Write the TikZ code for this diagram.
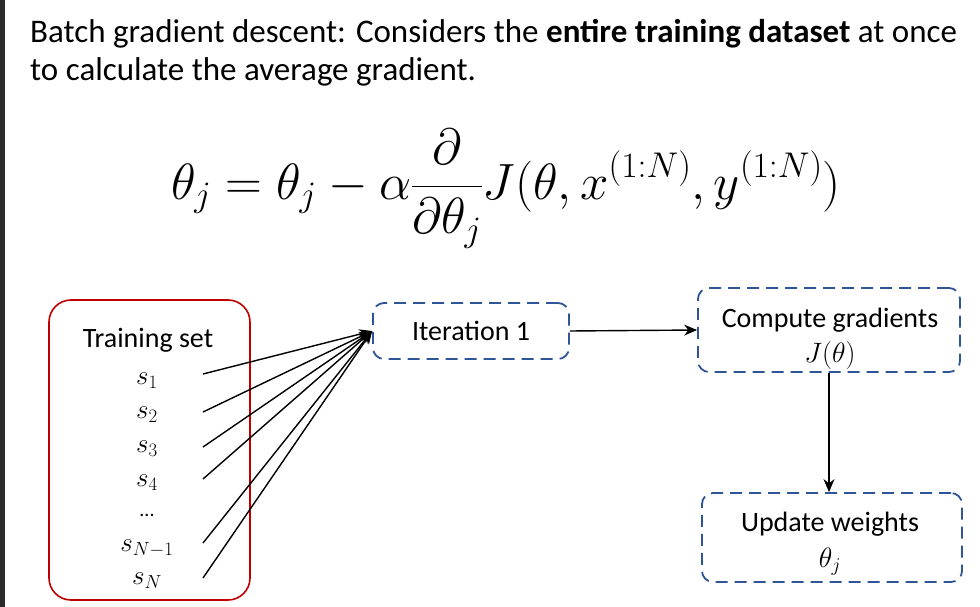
\RequirePackage{fix-cm}
\documentclass[tikz,border=0pt]{standalone}
\usepackage{amsmath}
\usepackage{fontspec}
\setmainfont{Carlito}
\usetikzlibrary{arrows.meta}
\definecolor{boxblue}{HTML}{2F5597}
\definecolor{boxred}{HTML}{C00000}
\definecolor{edgegray}{HTML}{2B2B2B}
\begin{document}
\begin{tikzpicture}[x=1pt,y=-1pt,
  dbox/.style={draw=boxblue, line width=1.8pt, dash pattern=on 12pt off 7pt, rounded corners=11pt, inner sep=0pt},
  conn/.style={-{Stealth[length=13pt,width=11pt]}, line width=1.4pt},
  fan/.style={-{Stealth[length=13pt,width=10pt]}, line width=1.4pt},
  lbl/.style={font=\fontsize{28}{32}\selectfont, inner sep=0pt, align=center},
  ttl/.style={font=\fontsize{33}{38}\selectfont, inner sep=0pt, anchor=base west},
  item/.style={font=\fontsize{27}{32}\selectfont, inner sep=0pt, anchor=base}
]
\useasboundingbox (0,0) rectangle (980,607);
\fill[white] (0,0) rectangle (980,607);
\fill[edgegray] (0,0) rectangle (5,607);

\node[ttl] (title1) at (30,43) {Batch gradient descent: Considers the \textbf{entire training dataset} at once};
\node[ttl] (title2) at (30,81) {to calculate the average gradient.};

\node[anchor=base, inner sep=0pt] (eq) at (506,199) {\fontsize{51}{60}\selectfont $\displaystyle\theta_j=\theta_j-\alpha\frac{\partial}{\partial\theta_j}J(\theta,x^{(1:N)},y^{(1:N)})$};

\node[draw=boxred, line width=1.6pt, rounded corners=22pt, minimum width=201pt, minimum height=300pt, inner sep=0pt] (train) at (149.5,450) {};
\node[lbl, anchor=base] (tslabel) at (148,347) {Training set};
\node[item] (s1) at (147,384) {$s_1$};
\node[item] (s2) at (147,418) {$s_2$};
\node[item] (s3) at (147,452) {$s_3$};
\node[item] (s4) at (147,486) {$s_4$};
\node[item] (sdots) at (147,516) {\fontsize{20}{24}\selectfont ...};
\node[item] (sN1) at (147,551) {$s_{N-1}$};
\node[item] (sN) at (147,584) {$s_N$};

\coordinate (c1) at (203,374);
\coordinate (c2) at (203,412);
\coordinate (c3) at (203,447);
\coordinate (c4) at (203,479);
\coordinate (cN1) at (203,543);
\coordinate (cN) at (203,578);

\node[dbox, minimum width=196pt, minimum height=56pt] (iter) at (471,331) {};
\node[lbl] (iterlabel) at (iter.center) {Iteration 1};

\node[dbox, minimum width=262pt, minimum height=84pt] (comp) at (829,330) {};
\node[lbl, anchor=base] (complabel) at (830,327) {Compute gradients};
\node[lbl, anchor=base] (compmath) at (830,362) {$J(\theta)$};

\node[dbox, minimum width=260pt, minimum height=89pt] (upd) at (832,537.5) {};
\node[lbl, anchor=base] (updlabel) at (830,531) {Update weights};
\node[lbl, anchor=base] (updmath) at (830,567) {$\theta_j$};

\foreach \c in {c1,c2,c3,c4,cN1,cN} {
  \draw[fan] (\c) -- (iter.west);
}
\draw[conn] (iter.east) -- (comp.west);
\draw[conn] (comp.south) -- (comp.south |- upd.north);
\end{tikzpicture}
\end{document}
